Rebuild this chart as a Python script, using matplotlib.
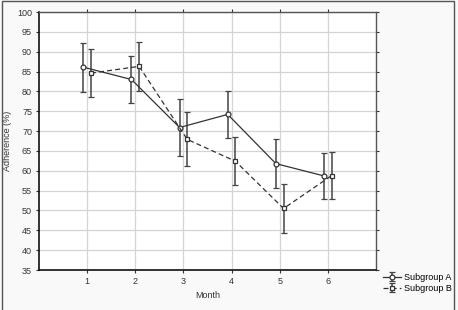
import matplotlib
matplotlib.use("Agg")
import matplotlib.pyplot as plt
from matplotlib.patches import Rectangle
import numpy as np

months = [1, 2, 3, 4, 5, 6]
a_mean = [86.1, 83.0, 70.9, 74.2, 61.8, 58.7]
a_err = [6.2, 6.0, 7.1, 5.9, 6.2, 5.8]
b_mean = [84.6, 86.3, 67.9, 62.4, 50.5, 58.8]
b_err = [6.0, 6.1, 6.8, 6.0, 6.2, 6.0]
labels = ["Subgroup A", "Subgroup B"]
yticks = list(range(35, 101, 5))

plt.rcParams['font.family'] = ['Liberation Sans', 'DejaVu Sans']

fig = plt.figure(figsize=(4.58, 3.10), dpi=100, facecolor='#f9f9f9')
fig.patches.append(Rectangle((2/458, -0.01), 452/458, 1 - 1/310 + 0.01,
                             transform=fig.transFigure, fill=False,
                             edgecolor='#555555', linewidth=1.0))
ax = fig.add_axes([39/458, 1 - 270/310, 337/458, 258/310])
ax.set_facecolor('white')

off = 0.08
xa = np.array(months) - off
xb = np.array(months) + off
col = '#333333'
ecol = '#444444'
ea = ax.errorbar(xa, a_mean, yerr=a_err, fmt='-o', color=col, lw=0.9,
                 ecolor=ecol, elinewidth=1.1, capsize=2, capthick=1.0, ms=3.5,
                 mfc='white', mec=col, mew=0.9, label=labels[0], zorder=3)
eb = ax.errorbar(xb, b_mean, yerr=b_err, fmt='--s', color=col, lw=0.9,
                 dashes=(4, 2.5), ecolor=ecol,
                 elinewidth=1.1, capsize=2, capthick=1.0, ms=3.5,
                 mfc='white', mec=col, mew=0.9, label=labels[1], zorder=3)

ax.set_xlim(0, 7)
ax.set_ylim(35, 100)
ax.set_xticks(months)
ax.set_yticks(yticks)
ax.grid(True, color='#d4d4d4', lw=0.9)
ax.set_axisbelow(True)
for s in ['left', 'bottom']:
    ax.spines[s].set_color('#111111')
    ax.spines[s].set_linewidth(1.2)
for s in ['top', 'right']:
    ax.spines[s].set_color('#555555')
    ax.spines[s].set_linewidth(1.0)
ax.tick_params(axis='both', labelsize=6.5, colors='#333333', length=2,
               width=0.8, direction='out', top=True, right=True, pad=3)
ax.tick_params(axis='x', pad=3)
ax.set_xlabel('Month', fontsize=6.5, color='#333333', labelpad=4)
ax.set_ylabel('Adherence (%)', fontsize=6.5, color='#333333', labelpad=4)

leg = fig.legend(handles=[ea, eb], labels=labels, loc='lower left',
                 bbox_to_anchor=(377/458, 1 - 299/310), frameon=False,
                 fontsize=6.5, handlelength=2.0, handletextpad=0.3,
                 labelspacing=0.2, borderpad=0.2)

fig.savefig('out.png', dpi=100, facecolor=fig.get_facecolor())
